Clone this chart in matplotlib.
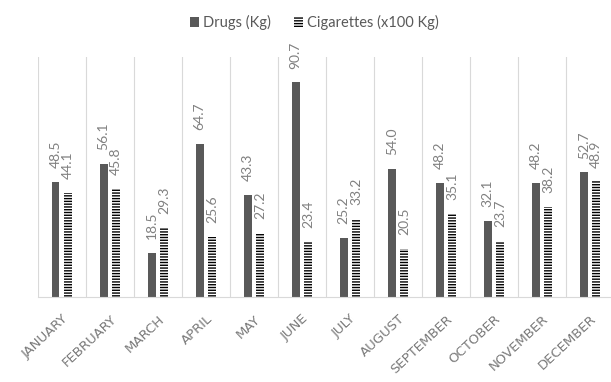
import matplotlib.pyplot as plt
import numpy as np

plt.rcParams['font.family'] = ['Lato', 'DejaVu Sans']
plt.rcParams['hatch.linewidth'] = 1.0

months = ['JANUARY', 'FEBRUARY', 'MARCH', 'APRIL', 'MAY', 'JUNE', 'JULY',
          'AUGUST', 'SEPTEMBER', 'OCTOBER', 'NOVEMBER', 'DECEMBER']
drugs = [48.5, 56.1, 18.5, 64.7, 43.3, 90.7, 25.2, 54.0, 48.2, 32.1, 48.2, 52.7]
cigarettes = [44.1, 45.8, 29.3, 25.6, 27.2, 23.4, 33.2, 20.5, 35.1, 23.7, 38.2, 48.9]

label_color = '#808080'
x = np.arange(len(months))
w = 0.16

fig = plt.figure(figsize=(6.11, 3.82), dpi=100)
ax = fig.add_axes([0.062, 0.222, 0.943, 0.628])

b1 = ax.bar(x - 0.13, drugs, w, color='#595959', label='Drugs (Kg)')
b2 = ax.bar(x + 0.13, cigarettes, w, color='white', edgecolor='black',
            linewidth=0, hatch='------', label='Cigarettes (x100 Kg)')

# value labels, rotated like the original
for rects, vals in [(b1, drugs), (b2, cigarettes)]:
    for r, v in zip(rects, vals):
        ax.annotate(f'{v:.1f}', (r.get_x() + r.get_width() / 2, r.get_height()),
                    xytext=(0, 10), textcoords='offset points', rotation=90,
                    ha='center', va='bottom', fontsize=10, color=label_color)

ax.set_xlim(-0.5, len(months) - 0.5)
ax.set_ylim(0, 101.3)
ax.set_yticks([])

# vertical separators between months
for b in np.arange(-0.5, len(months), 1.0):
    ax.axvline(b, color='#d9d9d9', lw=0.8, zorder=0)

ax.set_xticks(x)
ax.set_xticklabels(months, rotation=43, ha='right', rotation_mode='anchor',
                   fontsize=9.5, color='#7a7a7a', family='DejaVu Sans')
ax.tick_params(axis='x', length=0, pad=11)

for s in ['top', 'right', 'left']:
    ax.spines[s].set_visible(False)
ax.spines['bottom'].set_color('#d9d9d9')

ax.legend(loc='center', bbox_to_anchor=(0.48, 1.145), ncol=2, frameon=False,
          fontsize=10.5, handlelength=0.6, handleheight=0.6, handletextpad=0.3,
          columnspacing=1.6, labelcolor='#595959')

fig.savefig('out.png', dpi=100)
